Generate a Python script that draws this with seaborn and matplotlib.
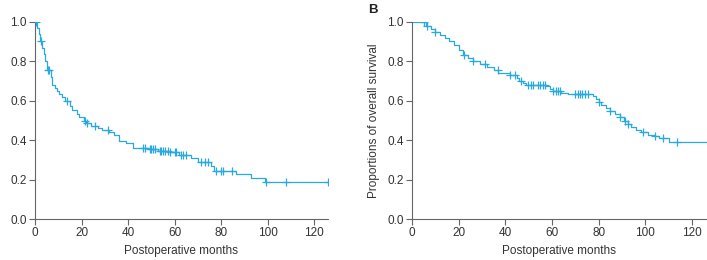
import numpy as np
import pandas as pd
import seaborn as sns
import matplotlib.pyplot as plt

# Panel A: step times (months) and survival after each step
a_time = [0, 0.8, 1.6, 2.2, 3, 3.8, 4.5, 5.3, 6.8, 7.5, 8.5, 9.5, 10.5, 11.5,
          13, 15, 16, 18, 19, 21, 22, 24, 27, 29, 32, 34, 36, 39, 42, 49, 53,
          58, 62, 67, 70, 75.5, 77, 86.5, 93, 99, 126]
a_surv = [1.0, 0.97, 0.94, 0.905, 0.87, 0.84, 0.80, 0.758, 0.72, 0.68, 0.665,
          0.65, 0.635, 0.62, 0.60, 0.575, 0.555, 0.535, 0.52, 0.50, 0.485,
          0.47, 0.46, 0.45, 0.44, 0.425, 0.395, 0.385, 0.362, 0.355, 0.345,
          0.338, 0.325, 0.308, 0.29, 0.268, 0.244, 0.227, 0.207, 0.19, 0.19]
a_censor = [0.5, 2.5, 5.6, 6.2, 13.6, 21.6, 22.3, 25.8, 31.2, 46.4, 47.1, 49.3,
            50, 50.7, 51.4, 53.6, 54.3, 55, 55.7, 57, 58, 60, 60.7, 62.9, 63.5,
            65, 71.4, 72.9, 74.3, 77.9, 80, 81, 84.7, 99.2, 108, 126]

# Panel B
b_time = [0, 6, 8, 10, 12, 14, 16, 18, 20, 22, 24, 26, 29, 32, 35, 37, 42, 45,
          46, 47.5, 49, 57.5, 59, 60.5, 64, 67, 77.5, 79, 80, 81, 83, 85, 87,
          89, 91, 92.5, 94, 96, 98, 101, 104, 106, 110, 127]
b_surv = [1.0, 0.98, 0.965, 0.95, 0.935, 0.92, 0.905, 0.885, 0.86, 0.835,
          0.815, 0.80, 0.785, 0.77, 0.755, 0.74, 0.73, 0.715, 0.70, 0.69, 0.68,
          0.673, 0.66, 0.65, 0.642, 0.634, 0.622, 0.61, 0.596, 0.58, 0.565,
          0.55, 0.535, 0.52, 0.50, 0.48, 0.465, 0.453, 0.44, 0.428, 0.42,
          0.41, 0.39, 0.39]
b_censor = [5.3, 6.3, 10, 22.4, 26.3, 31.3, 36.7, 42, 44, 46.7, 49.9, 51, 52,
            54, 55, 56, 57, 60.6, 61.5, 62.5, 63.4, 70, 71, 72, 73, 74, 75.6,
            80, 85, 89.1, 91.3, 92.7, 99.1, 104.1, 107.7, 113.4]

xticks = [0, 20, 40, 60, 80, 100, 120]
yticks = [0.0, 0.2, 0.4, 0.6, 0.8, 1.0]

color = '#2aa8e0'
grey = '#666666'

sns.set_style('white')
plt.rcParams['font.family'] = ['Liberation Sans', 'DejaVu Sans']

fig = plt.figure(figsize=(7.07, 2.6), dpi=100)
ax_a = fig.add_axes([35 / 707, 41 / 260, 293 / 707, 197 / 260])
ax_b = fig.add_axes([412 / 707, 41 / 260, 295 / 707, 197 / 260])


def km_panel(ax, times, surv, censor, xmax):
    curve = pd.DataFrame({'t': times, 's': surv})
    sns.lineplot(data=curve, x='t', y='s', ax=ax, color=color, lw=0.9,
                 drawstyle='steps-post', estimator=None, sort=False)
    idx = np.searchsorted(np.array(times), np.array(censor), side='right') - 1
    marks = pd.DataFrame({'t': censor, 's': np.array(surv)[idx]})
    sns.scatterplot(data=marks, x='t', y='s', ax=ax, marker='+', s=30,
                    color=color, linewidth=0.9, zorder=3)
    ax.set_xlim(0, xmax)
    ax.set_ylim(0, 1.0)
    ax.set_xticks(xticks)
    ax.set_yticks(yticks)
    ax.set_yticklabels([f'{v:.1f}' for v in yticks])
    ax.set_xlabel('Postoperative months', fontsize=8.5, color='#333333', labelpad=4)
    ax.set_ylabel('')
    for side in ['top', 'right']:
        ax.spines[side].set_visible(False)
    for side in ['left', 'bottom']:
        ax.spines[side].set_color(grey)
        ax.spines[side].set_linewidth(0.8)
    ax.tick_params(axis='both', direction='out', length=4, width=0.8,
                   color=grey, labelsize=8.5, labelcolor='#333333', pad=2,
                   left=True, bottom=True)


km_panel(ax_a, a_time, a_surv, a_censor, 126)
km_panel(ax_b, b_time, b_surv, b_censor, 126.4)

ax_b.set_ylabel('Proportions of overall survival', fontsize=8.5,
                color='#333333', labelpad=5)
fig.text(368 / 707, 1 - 10 / 260, 'B', fontsize=9.5, fontweight='bold',
         color='#222222', ha='left', va='center')

fig.savefig('out.png', dpi=100)
